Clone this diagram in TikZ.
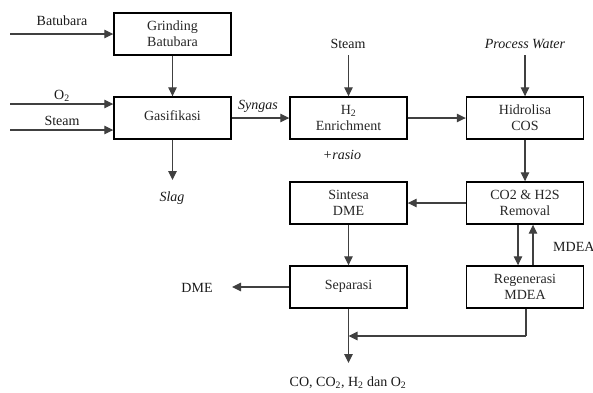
\documentclass[tikz,border=0pt]{standalone}
\usepackage{fontspec}
\setmainfont{Liberation Serif}
\usetikzlibrary{arrows.meta}
\begin{document}
\begin{tikzpicture}[x=1pt,y=-1pt,
  box/.style={draw, line width=1.4pt, minimum width=117pt, minimum height=42pt, inner sep=0pt, align=center, font=\rmfamily\fontsize{14}{16}\selectfont, text=black!85},
  lbl/.style={inner sep=0pt, font=\rmfamily\fontsize{14}{16}\selectfont, text=black!90},
  flow/.style={line width=1.1pt, draw=black!75, -{Triangle[length=9pt,width=8.5pt]}},
  plain/.style={line width=1.1pt, draw=black!75}]
\useasboundingbox (0,0) rectangle (593,392);
% boxes
\node[box] (grind) at (172.5,34) {Grinding\\Batubara};
\node[box] (gas) at (172.5,118) {\raisebox{5pt}{Gasifikasi}};
\node[box] (h2) at (348.5,118) {H\textsubscript{2}\\Enrichment};
\node[box] (hid) at (525,118) {Hidrolisa\\COS};
\node[box] (co2) at (525,203) {CO2 \& H2S\\Removal};
\node[box] (sin) at (348.5,203) {Sintesa\\DME};
\node[box] (sep) at (348.5,287) {\raisebox{5pt}{Separasi}};
\node[box] (reg) at (525,287) {Regenerasi\\MDEA};
% labels
\node[lbl] (lbat) at (62,21) {Batubara};
\node[lbl] (lo2) at (62,96) {O\textsubscript{2}};
\node[lbl] (lst) at (62,121) {Steam};
\node[lbl] (lst2) at (348,44) {Steam};
\node[lbl] (lpw) at (525,44) {\itshape Process Water};
\node[lbl] (lsyn) at (258,106) {\itshape Syngas};
\node[lbl] (lras) at (342,155) {\itshape +rasio};
\node[lbl] (lslag) at (172,198) {\itshape Slag};
\node[lbl, anchor=west] (lmdea) at (553,247) {MDEA};
\node[lbl] (ldme) at (197,288) {DME};
\node[lbl] (lout) at (348,383) {CO, CO\textsubscript{2}, H\textsubscript{2} dan O\textsubscript{2}};
% coordinates
\coordinate (ibat) at (10,34);
\coordinate (io2) at (10,104);
\coordinate (ist) at (10,130);
\coordinate (ist2) at (348.5,55);
\coordinate (ipw) at (525,55);
\coordinate (oslag) at (172.5,180);
\coordinate (odme) at (232,287);
\coordinate (oout) at (348.5,363);
\coordinate (rc) at (526,336);
\coordinate (jn) at (348.5,336);
% connectors
\draw[flow] (ibat) -- (grind.west);
\draw[flow] (io2) -- (io2 -| gas.west);
\draw[flow] (ist) -- (ist -| gas.west);
\draw[flow] (grind) -- (gas);
\draw[flow] (gas) -- (oslag);
\draw[flow] (gas) -- (h2);
\draw[flow] (ist2) -- (h2);
\draw[flow] (h2) -- (hid);
\draw[flow] (ipw) -- (hid);
\draw[flow] (hid) -- (co2);
\draw[flow] (co2) -- (sin);
\draw[flow] (sin) -- (sep);
\draw[flow] (sep) -- (odme);
\draw[flow] ([xshift=-7pt]co2.south) -- ([xshift=-7pt]reg.north);
\draw[flow] ([xshift=8pt]reg.north) -- ([xshift=8pt]co2.south);
\draw[flow] (sep) -- (oout);
\draw[plain] (reg.south -| rc) -- (rc);
\draw[flow] (rc) -- (jn);
\end{tikzpicture}
\end{document}
